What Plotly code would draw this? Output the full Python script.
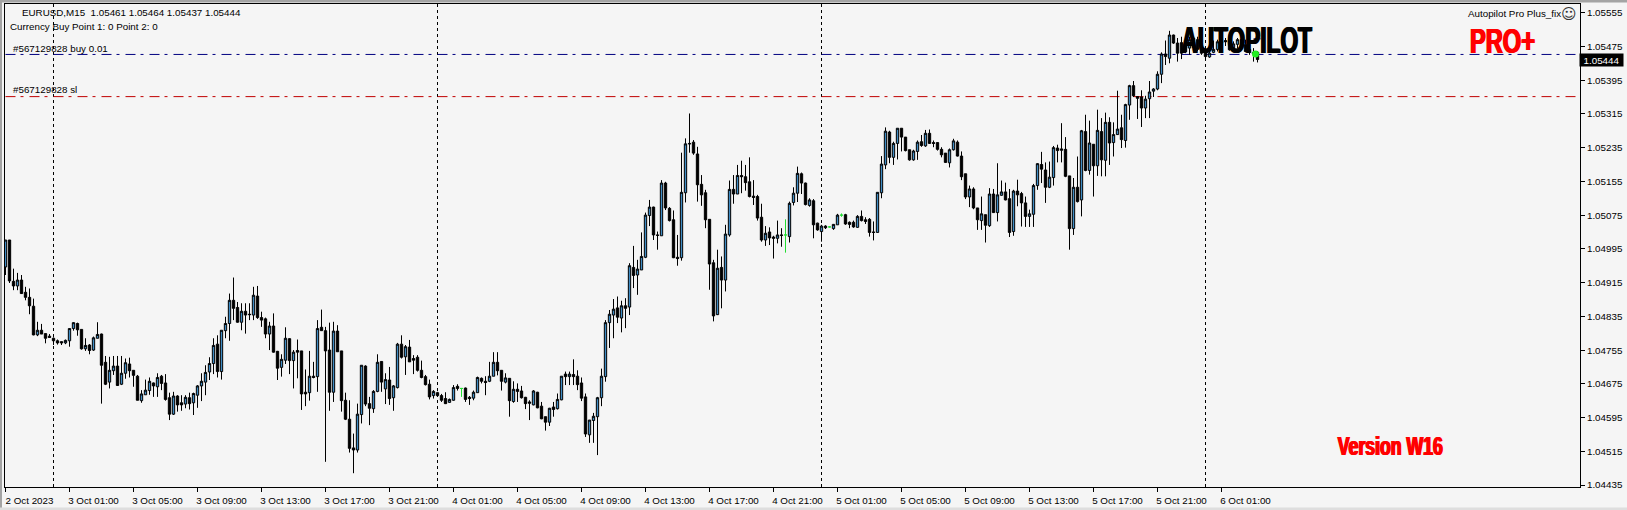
import plotly.graph_objects as go

# Prices are stored in points above 1.00000 (5063 means 1.05063)
opens = [4952,5016,4918,4907,4921,4892,4880,4859,4791,4802,
4794,4788,4783,4777,4775,4772,4777,4806,4818,4804,
4758,4767,4755,4783,4793,4726,4679,4706,4717,4674,
4700,4722,4707,4693,4635,4649,4659,4677,4668,4693,
4677,4642,4603,4646,4630,4627,4642,4630,4648,4670,
4679,4703,4723,4769,4704,4801,4818,4873,4856,4821,
4847,4840,4838,4883,4832,4829,4793,4812,4752,4714,
4731,4782,4730,4754,4753,4655,4654,4693,4692,4809,
4801,4755,4655,4800,4753,4636,4591,4523,4518,4602,
4717,4628,4616,4657,4728,4663,4684,4642,4666,4769,
4739,4762,4735,4738,4707,4692,4674,4647,4654,4647,
4640,4631,4636,4669,4664,4665,4643,4641,4654,4688,
4681,4681,4693,4726,4707,4679,4688,4633,4662,4658,
4643,4632,4625,4655,4622,4597,4584,4620,4616,4637,
4698,4692,4697,4693,4677,4644,4554,4588,4597,4642,
4692,4820,4838,4855,4831,4860,4857,4951,4933,4945,
4975,5074,5094,5028,5026,5151,5091,5064,4975,4974,
5128,5245,5248,5220,5148,5128,5065,4962,4839,4951,
4921,5028,5136,5125,5169,5166,5154,5120,5119,5070,
5016,5035,5023,5020,5028,5028,5024,5105,5127,5173,
5151,5098,5109,5056,5036,5049,5047,5043,5052,5075,
5076,5058,5058,5046,5072,5064,5065,5035,5034,5128,
5194,5272,5212,5245,5281,5260,5230,5206,5226,5249,
5239,5269,5247,5247,5231,5222,5199,5230,5248,5215,
5173,5118,5137,5092,5062,5076,5050,5125,5081,5122,
5130,5114,5036,5132,5126,5104,5072,5077,5145,5195,
5182,5141,5164,5234,5232,5231,5168,5043,5141,5111,
5273,5181,5243,5192,5273,5205,5295,5247,5266,5282,
5252,5336,5382,5356,5355,5329,5351,5369,5374,5409,
5457,5447,5502,5483,5484,5481,5471,5473,5491,5471,
5461,5450,5461,5468,5487,5489,5489,5465,5480,5491,
5479,5461,5461,5461]

highs = [5016,5016,4948,4938,4933,4905,4901,4877,4822,4817,
4794,4793,4785,4780,4775,4780,4806,4821,4820,4804,
4783,4769,4787,4821,4794,4741,4739,4741,4741,4741,
4735,4737,4707,4696,4660,4685,4690,4678,4700,4696,
4698,4654,4656,4648,4648,4648,4654,4654,4672,4700,
4719,4738,4783,4790,4802,4834,4889,4927,4869,4866,
4866,4866,4905,4907,4846,4832,4822,4842,4753,4745,
4809,4783,4755,4780,4753,4709,4753,4727,4826,4851,
4810,4820,4822,4814,4753,4654,4636,4557,4628,4719,
4719,4644,4660,4745,4728,4700,4715,4672,4772,4790,
4767,4779,4743,4743,4730,4696,4685,4660,4656,4651,
4655,4640,4672,4674,4664,4666,4646,4659,4692,4690,
4693,4727,4750,4750,4707,4700,4688,4681,4676,4670,
4644,4636,4660,4656,4632,4597,4618,4632,4652,4693,
4704,4704,4733,4707,4690,4652,4589,4606,4644,4711,
4826,4850,4876,4882,4872,4878,4961,5002,4969,5034,
5081,5111,5095,5036,5158,5154,5094,5086,5028,5223,
5257,5316,5253,5237,5170,5135,5065,4969,4993,4977,
5052,5157,5170,5194,5204,5194,5212,5158,5123,5102,
5049,5046,5026,5062,5044,5065,5107,5141,5190,5176,
5152,5115,5113,5057,5052,5051,5048,5054,5078,5079,
5078,5060,5062,5075,5086,5070,5068,5060,5129,5215,
5283,5275,5249,5281,5281,5260,5230,5230,5252,5265,
5277,5278,5252,5247,5236,5222,5233,5256,5252,5226,
5173,5145,5141,5092,5119,5076,5139,5137,5198,5157,
5152,5137,5135,5159,5130,5119,5088,5149,5198,5225,
5200,5202,5239,5242,5293,5260,5168,5163,5214,5277,
5313,5299,5243,5325,5305,5318,5307,5295,5370,5313,
5339,5384,5393,5356,5371,5358,5393,5376,5416,5461,
5489,5512,5503,5495,5498,5491,5498,5498,5498,5483,
5475,5462,5489,5491,5495,5495,5495,5487,5495,5497,
5491,5476,5471,5464]

lows = [4933,4914,4897,4897,4888,4873,4840,4790,4788,4793,
4771,4784,4767,4768,4767,4769,4763,4801,4789,4756,
4753,4745,4753,4783,4628,4672,4664,4696,4670,4672,
4687,4690,4668,4636,4630,4649,4649,4644,4644,4660,
4635,4589,4601,4609,4611,4617,4614,4601,4618,4634,
4648,4684,4698,4690,4685,4783,4777,4826,4820,4802,
4794,4826,4826,4829,4810,4783,4755,4749,4684,4692,
4722,4698,4664,4688,4613,4622,4635,4688,4656,4801,
4490,4611,4632,4751,4609,4589,4512,4463,4512,4581,
4622,4577,4606,4655,4656,4627,4625,4611,4664,4735,
4696,4727,4698,4704,4688,4671,4638,4640,4644,4632,
4627,4630,4635,4659,4644,4632,4625,4636,4654,4676,
4648,4679,4693,4695,4659,4676,4597,4630,4632,4640,
4615,4589,4624,4617,4591,4564,4575,4597,4614,4636,
4672,4672,4672,4660,4634,4549,4535,4535,4506,4622,
4680,4760,4783,4819,4797,4807,4838,4902,4886,4945,
4973,5049,5016,4993,5026,5087,5060,4973,4955,4967,
5105,5223,5218,5107,5097,5044,4898,4823,4838,4854,
4894,5024,5102,5125,5127,5133,5117,5099,5062,5012,
5002,5004,4972,5008,5000,4986,5010,5098,5106,5125,
5098,5095,5020,5038,5012,5042,5046,5040,5052,5071,
5052,5044,5045,5045,5060,5054,5024,5015,5034,5115,
5184,5198,5194,5207,5226,5226,5204,5204,5206,5237,
5237,5244,5236,5228,5212,5199,5188,5228,5214,5158,
5113,5094,5089,5040,5040,5010,5047,5080,5060,5121,
5110,5023,5026,5096,5048,5047,5047,5047,5135,5151,
5104,5139,5145,5200,5200,5165,4993,5028,5105,5072,
5179,5171,5119,5168,5167,5167,5194,5214,5266,5234,
5235,5301,5355,5303,5284,5305,5305,5355,5371,5388,
5431,5435,5481,5439,5445,5459,5455,5467,5463,5455,
5442,5448,5459,5463,5475,5476,5465,5463,5471,5468,
5461,5455,5439,5437]

closes = [5016,4919,4907,4921,4889,4880,4860,4791,4802,4793,
4783,4785,4777,4772,4772,4778,4806,4820,4803,4758,
4766,4754,4784,4792,4719,4674,4707,4717,4671,4700,
4725,4706,4695,4636,4651,4660,4681,4670,4690,4676,
4638,4603,4646,4625,4625,4643,4628,4652,4670,4681,
4702,4723,4766,4704,4802,4818,4873,4854,4821,4847,
4838,4839,4885,4832,4826,4793,4812,4750,4712,4733,
4783,4730,4750,4750,4651,4651,4693,4690,4806,4801,
4753,4655,4800,4751,4635,4591,4522,4518,4603,4719,
4627,4617,4657,4726,4679,4685,4640,4670,4769,4738,
4763,4727,4731,4707,4690,4673,4644,4657,4647,4636,
4628,4638,4666,4664,4664,4638,4640,4655,4690,4681,
4678,4693,4726,4706,4681,4689,4635,4662,4657,4642,
4628,4629,4658,4618,4592,4584,4617,4614,4638,4693,
4692,4698,4692,4673,4641,4556,4589,4598,4642,4693,
4820,4840,4852,4833,4860,4854,4955,4932,4947,4977,
5075,5094,5028,5027,5151,5092,5062,4974,4972,5129,
5244,5244,5222,5147,5123,5064,4959,4836,4949,4921,
5030,5136,5125,5169,5166,5152,5119,5117,5068,5016,
5032,5021,5020,5028,5027,5028,5103,5127,5174,5151,
5100,5111,5052,5040,5049,5045,5047,5053,5075,5075,
5054,5053,5047,5072,5062,5060,5034,5034,5129,5196,
5274,5212,5245,5281,5260,5228,5206,5227,5248,5240,
5269,5245,5245,5231,5218,5200,5230,5251,5215,5166,
5118,5137,5092,5064,5078,5051,5125,5081,5123,5130,
5111,5034,5132,5123,5104,5072,5078,5145,5197,5184,
5141,5165,5235,5228,5229,5167,5043,5141,5107,5275,
5181,5246,5192,5276,5206,5295,5246,5266,5279,5254,
5337,5382,5358,5352,5329,5350,5367,5374,5409,5457,
5451,5502,5483,5459,5459,5462,5491,5495,5468,5459,
5451,5459,5468,5486,5483,5486,5467,5481,5491,5471,
5463,5468,5457,5444]

time_tick_labels = ["2 Oct 2023", "3 Oct 01:00", "3 Oct 05:00", "3 Oct 09:00", "3 Oct 13:00", "3 Oct 17:00",
                    "3 Oct 21:00", "4 Oct 01:00", "4 Oct 05:00", "4 Oct 09:00", "4 Oct 13:00", "4 Oct 17:00",
                    "4 Oct 21:00", "5 Oct 01:00", "5 Oct 05:00", "5 Oct 09:00", "5 Oct 13:00", "5 Oct 17:00",
                    "5 Oct 21:00", "6 Oct 01:00"]
time_tick_bars = [0, 16, 32, 48, 64, 80, 96, 112, 128, 144, 160, 176, 192, 208, 224, 240, 256, 272, 288, 304]
day_separator_bars = [12, 108, 204, 300]
price_ticks = [1.05555, 1.05475, 1.05395, 1.05315, 1.05235, 1.05155, 1.05075, 1.04995,
               1.04915, 1.04835, 1.04755, 1.04675, 1.04595, 1.04515, 1.04435]
buy_level = 1.05456
sl_level = 1.05356
last_price = 1.05444
entry_bar = 312.5
entry_price = 1.05457
trade_mark_bars = [312, 313.75]
trade_mark_price = 1.05493

assert len(opens) == len(highs) == len(lows) == len(closes) == 314, (len(opens), len(highs), len(lows), len(closes))

W, H = 1627, 510
ML, MR, MT, MB = 5, 47, 4, 23
PW, PH = W - ML - MR, H - MT - MB
BG = "#f5f5f5"
TEXT_FONT = "Liberation Sans"


def px(x):
    return (x - ML) / PW


def py(y):
    return 1 - (y - MT) / PH


def prices(values, idx):
    return [1 + values[i] / 100000 for i in idx]


def candle_trace(idx, up_fill, down_fill, line):
    return go.Candlestick(
        x=idx,
        open=prices(opens, idx), high=prices(highs, idx), low=prices(lows, idx), close=prices(closes, idx),
        increasing=dict(fillcolor=up_fill, line=dict(color=line, width=1)),
        decreasing=dict(fillcolor=down_fill, line=dict(color=line, width=1)),
        whiskerwidth=0, showlegend=False, hoverinfo="skip",
    )


all_idx = list(range(len(opens)))
up = [i for i in all_idx if closes[i] > opens[i]]
down = [i for i in all_idx if closes[i] < opens[i]]
flat = [i for i in all_idx if closes[i] == opens[i]]

fig = go.Figure()
fig.add_trace(candle_trace(up, "#3f8cc4", "#000000", "#000000"))
fig.add_trace(candle_trace(down, "#3f8cc4", "#000000", "#000000"))
fig.add_trace(candle_trace(flat, "#22dd33", "#22dd33", "#22dd33"))
fig.add_trace(go.Scatter(x=[entry_bar], y=[entry_price], mode="markers",
                         marker=dict(color="#22ee22", size=7, symbol="circle"),
                         showlegend=False, hoverinfo="skip"))
fig.add_trace(go.Scatter(x=trade_mark_bars, y=[trade_mark_price, trade_mark_price], mode="lines",
                         line=dict(color="#000080", width=1),
                         showlegend=False, hoverinfo="skip"))

shapes = []
for b in day_separator_bars:
    shapes.append(dict(type="line", xref="x", yref="paper", x0=b, x1=b, y0=0, y1=1, layer="below",
                       line=dict(color="#000000", width=1, dash="3px,3px")))
end_bar = 392.5
for level, color in ((buy_level, "#000080"), (sl_level, "#c00000")):
    shapes.append(dict(type="line", xref="x", yref="y", x0=0, x1=end_bar, y0=level, y1=level, layer="below",
                       line=dict(color=color, width=1, dash="10px,5px,3px,6px")))
# window frame outside of the plot
shapes.append(dict(type="rect", xref="paper", yref="paper", x0=px(0), x1=px(W), y0=py(0), y1=py(2.5),
                   fillcolor="#a4a4a4", line_width=0))
shapes.append(dict(type="rect", xref="paper", yref="paper", x0=px(0), x1=px(2), y0=py(0), y1=py(H),
                   fillcolor="#a4a4a4", line_width=0))
shapes.append(dict(type="rect", xref="paper", yref="paper", x0=px(0), x1=px(W), y0=py(507.5), y1=py(H),
                   fillcolor="#dedede", line_width=0))


def note(text, x, y, size=9.8, color="#000000", anchor="left", family=TEXT_FONT, weight=None, shadow=None, vanchor="middle"):
    font = dict(family=family, size=size, color=color)
    if weight:
        font["weight"] = weight
    if shadow:
        font["shadow"] = shadow
    return dict(text=text, xref="paper", yref="paper", x=px(x), y=py(y), xanchor=anchor, yanchor=vanchor,
                showarrow=False, font=font, borderpad=0)


annotations = [
    note("EURUSD,M15  1.05461 1.05464 1.05437 1.05444", 21, 12.5),
    note("Currency Buy Point 1: 0 Point 2: 0", 9, 26),
    note("#567129828 buy 0.01", 12, 48.5),
    note("#567129828 sl", 12, 90),
    note("Autopilot Pro Plus_fix", 1562, 14, anchor="right"),
    note("☺", 1569, 14, size=15, anchor="center", family="DejaVu Sans", color="#333333"),
    note("AUTOPILOT", 1246, 40, size=37, anchor="center", weight=700,
         shadow="1px 0 0 #000, -1px 0 0 #000"),
    note("PRO+", 1502, 40, size=36, color="#ff0000", anchor="center", weight=700,
         shadow="1px 0 0 #f00, -1px 0 0 #f00"),
    note("Version W16", 1390, 446, size=26, color="#ff0000", anchor="center", weight=700,
         shadow="1px 0 0 #f00, -1px 0 0 #f00"),
    dict(text="1.05444", xref="paper", yref="y", x=px(1601), y=last_price, xanchor="center", yanchor="middle",
         showarrow=False, bgcolor="#000000", font=dict(family=TEXT_FONT, size=9.8, color="#ffffff"),
         borderpad=1, width=41, height=10),
]

fig.update_layout(
    width=W, height=H, autosize=False,
    margin=dict(l=ML, r=MR, t=MT, b=MB, pad=0),
    paper_bgcolor=BG, plot_bgcolor=BG,
    showlegend=False, shapes=shapes, annotations=annotations,
    boxgap=0.42, boxgroupgap=0,
    font=dict(family=TEXT_FONT, size=9.8, color="#000000"),
    xaxis=dict(range=[-0.125, PW / 4 - 0.125], rangeslider=dict(visible=False), tickmode="array",
               tickvals=time_tick_bars, ticktext=time_tick_labels, ticklabelshift=24,
               ticks="outside", ticklen=4, tickwidth=1, tickcolor="#000000",
               showgrid=False, zeroline=False, showline=True, linecolor="#000000", linewidth=1, mirror=True,
               tickfont=dict(family=TEXT_FONT, size=9.8, color="#000000")),
    yaxis=dict(range=[1.044303, 1.055756], side="right", tickmode="array",
               tickvals=price_ticks, ticktext=[f"{p:.5f}" for p in price_ticks],
               ticks="outside", ticklen=4, tickwidth=1, tickcolor="#000000",
               showgrid=False, zeroline=False, showline=True, linecolor="#000000", linewidth=1, mirror=True,
               tickfont=dict(family=TEXT_FONT, size=9.8, color="#000000")),
)

# The three banner labels use a condensed poster face in the reference: squeeze them horizontally.
squeeze_js = """
document.body.style.margin='0';
var targets={'AUTOPILOT':131,'PRO+':65,'Version W16':105};
document.querySelectorAll('.annotation-text').forEach(function(t){
  var w=targets[t.textContent]; if(!w){return;}
  var b=t.getBBox(); var cx=b.x+b.width/2;
  t.setAttribute('transform','translate('+cx+',0) scale('+(w/b.width)+',1) translate('+(-cx)+',0)');
});
"""
fig.write_html("out.html", config={"displayModeBar": False}, post_script=squeeze_js)
